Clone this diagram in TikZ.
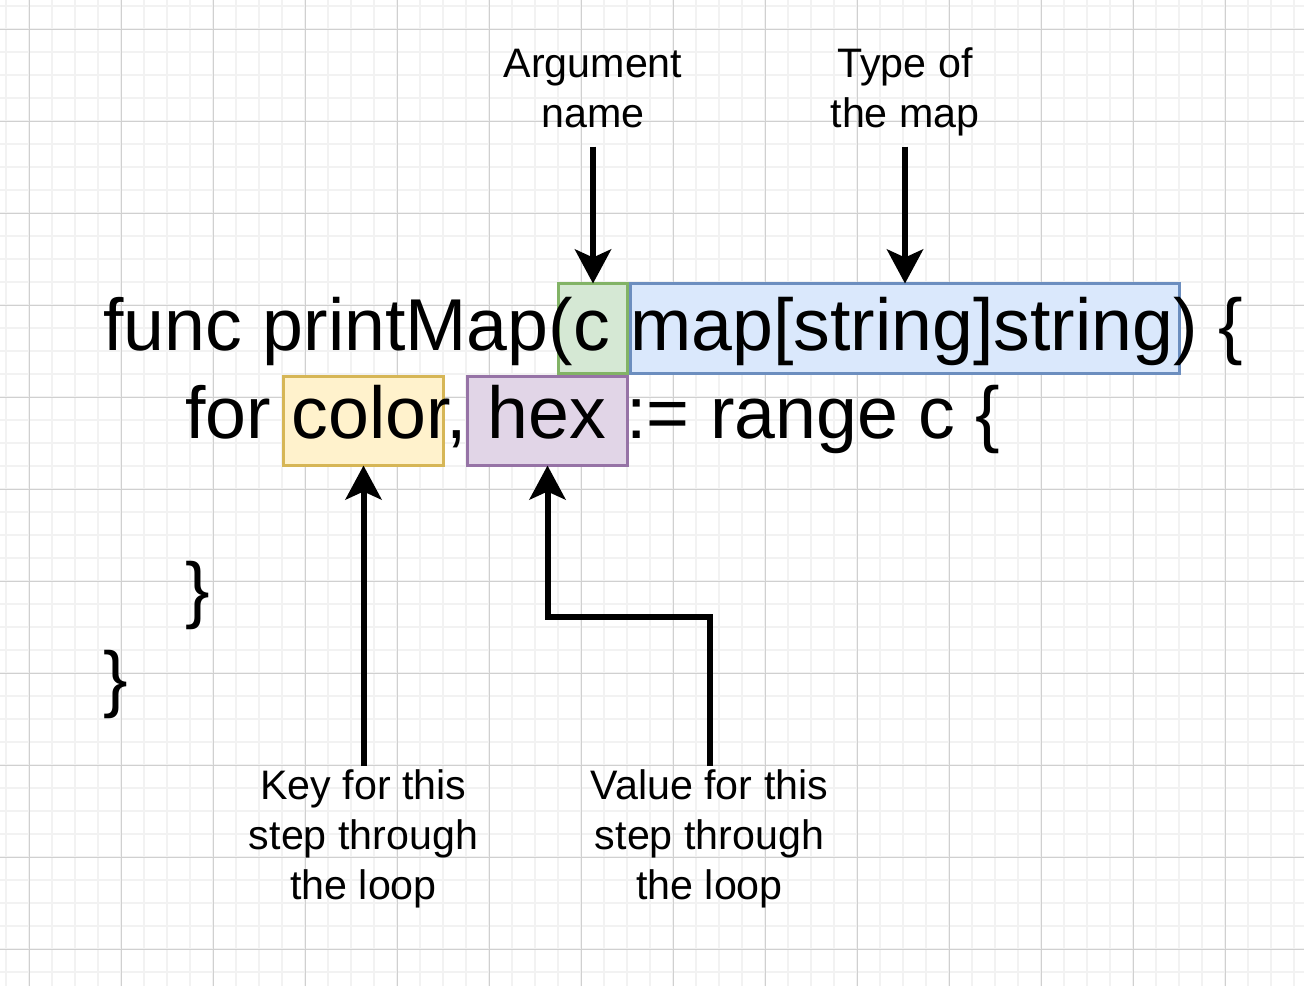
\documentclass[tikz,border=0pt]{standalone}
\usepackage{fontspec}
\setmainfont{Liberation Sans}
\usepackage{xcolor}
\usepackage{tikz}
\usetikzlibrary{arrows.meta, backgrounds, positioning}
\definecolor{argfill}{HTML}{D5E8D4}
\definecolor{argline}{HTML}{82B366}
\definecolor{typefill}{HTML}{DAE8FC}
\definecolor{typeline}{HTML}{6C8EBF}
\definecolor{keyfill}{HTML}{FFF2CC}
\definecolor{keyline}{HTML}{D6B656}
\definecolor{valfill}{HTML}{E1D5E7}
\definecolor{valline}{HTML}{9673A6}
\definecolor{minorline}{HTML}{F2F2F2}
\definecolor{majorline}{HTML}{D0D0D0}
\tikzstyle{code} = [anchor=base west, inner sep=0pt, font=\fontsize{36.75}{44}\selectfont]
\tikzstyle{highlight} = [rectangle, line width=1.5pt, outer sep=0pt, inner sep=0pt]
\tikzstyle{topnote} = [align=center, inner sep=0pt, outer ysep=9.5pt, text depth=0pt, font=\fontsize{20.6}{25}\selectfont]
\tikzstyle{bottomnote} = [align=center, inner sep=0pt, outer ysep=2pt, font=\fontsize{20.6}{25}\selectfont]
\tikzstyle{arrow} = [line width=3pt, -{Stealth[length=17pt, width=18pt, inset=4pt]}]
\tikzstyle{minorgrid} = [draw=minorline, line width=0.75pt]
\tikzstyle{majorgrid} = [draw=majorline, line width=0.5pt]

\begin{document}
\begin{tikzpicture}[x=0.5pt, y=0.5pt]
  \fill[white] (0,0) rectangle (1304,-986);
  \useasboundingbox (0,0) rectangle (1304,-986);
  \draw[minorgrid, step=11.5pt, xshift=3pt, yshift=-3pt] (-6,6) grid (1298,-980);
  \draw[majorgrid, step=46pt, xshift=14.5pt, yshift=-14.5pt] (-29,29) grid (1275,-957);

  \node (mapbox) [highlight, draw=typeline, fill=typefill, minimum width=274.5pt, minimum height=45pt] at (905,-328.5) {};
  \node (argbox) [highlight, draw=argline, fill=argfill, minimum width=34.5pt, minimum height=45pt] at (593,-328.5) {};
  \node (keybox) [highlight, draw=keyline, fill=keyfill, minimum width=80pt, minimum height=44.5pt] at (363.5,-421) {};
  \node (valbox) [highlight, draw=valline, fill=valfill, minimum width=80pt, minimum height=44.5pt] at (547.5,-421) {};

  \node (sigline) [code] at (103,-350) {func printMap(c map[string]string) \{};
  \node (loopline) [code] at (185,-438) {for color, hex := range c \{};
  \node (loopend) [code] at (185,-614) {\}};
  \node (funcend) [code] at (103,-703) {\}};

  \node (argname) [topnote, above=68.5pt of argbox] {Argument\\name};
  \node (typemap) [topnote, above=68.5pt of mapbox] {Type of\\the map};
  \node (keynote) [bottomnote, below=150pt of keybox] {Key for this\\step through\\the loop};
  \node (valnote) [bottomnote, on grid, right=173pt of keynote] {Value for this\\step through\\the loop};

  \draw[arrow] (argname.south) -- (argbox.north);
  \draw[arrow] (typemap.south) -- (mapbox.north);
  \draw[arrow] (keynote.north) -- (keybox.south);
  \draw[arrow] (valnote.north) -- ++(0,149) -| (valbox.south);
\end{tikzpicture}
\end{document}
